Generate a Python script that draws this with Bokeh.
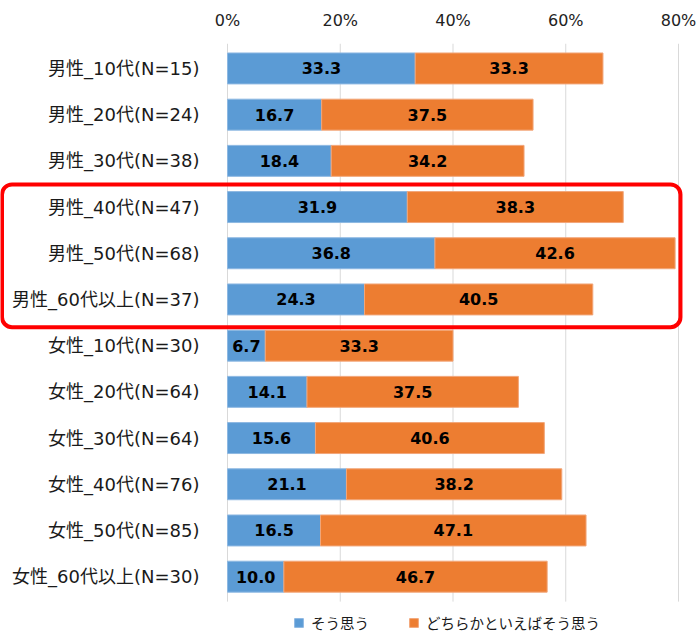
from bokeh.plotting import figure
from bokeh.models import (ColumnDataSource, Range1d, FixedTicker, CustomJSTickFormatter,
                          Legend, LegendItem, BoxAnnotation, LinearAxis)
from bokeh.core.properties import value
from bokeh.embed import file_html
from bokeh.resources import INLINE

categories = ["男性_10代(N=15)", "男性_20代(N=24)", "男性_30代(N=38)", "男性_40代(N=47)",
              "男性_50代(N=68)", "男性_60代以上(N=37)", "女性_10代(N=30)", "女性_20代(N=64)",
              "女性_30代(N=64)", "女性_40代(N=76)", "女性_50代(N=85)", "女性_60代以上(N=30)"]
sou_omou = [33.3, 16.7, 18.4, 31.9, 36.8, 24.3, 6.7, 14.1, 15.6, 21.1, 16.5, 10.0]
dochira = [33.3, 37.5, 34.2, 38.3, 42.6, 40.5, 33.3, 37.5, 40.6, 38.2, 47.1, 46.7]
series_names = ["そう思う", "どちらかといえばそう思う"]
tick_values = [0, 20, 40, 60, 80]
highlight_rows = [3, 5]

BLUE = "#5B9BD5"
ORANGE = "#ED7D31"
LABEL_FONT = "DejaVu Sans, Noto Sans CJK JP"

n = len(categories)
ypos = list(range(n))
src = ColumnDataSource(dict(
    y=ypos, cat=categories, a=sou_omou, b=dochira,
    a_end=sou_omou,
    b_end=[x + y for x, y in zip(sou_omou, dochira)],
    a_mid=[x / 2 for x in sou_omou],
    b_mid=[x + y / 2 for x, y in zip(sou_omou, dochira)],
    a_txt=[f"{v:.1f}" for v in sou_omou],
    b_txt=[f"{v:.1f}" for v in dochira],
))

Y_TOP = -0.54
p = figure(width=697, height=633, output_backend="svg", toolbar_location=None,
           x_range=Range1d(-40.27, 82.13), y_range=Range1d(12.23, Y_TOP),
           x_axis_location=None, y_axis_location=None,
           min_border_left=0, min_border_right=7, min_border_top=43, min_border_bottom=0)
p.outline_line_color = None
p.background_fill_color = "white"
p.xgrid.grid_line_color = None
p.ygrid.grid_line_color = None

ax = LinearAxis(ticker=FixedTicker(ticks=tick_values),
                formatter=CustomJSTickFormatter(code="return tick + '%';"))
ax.axis_line_color = None
ax.major_tick_line_color = None
ax.minor_tick_line_color = None
ax.major_label_text_font = "DejaVu Sans"
ax.major_label_text_font_size = "16px"
ax.major_label_text_color = "#222222"
ax.major_label_standoff = 8
p.add_layout(ax, "above")

# vertical gridlines at the tick values, spanning the category rows
p.segment(x0=tick_values, x1=tick_values, y0=[Y_TOP] * len(tick_values),
          y1=[n - 1 + 0.54] * len(tick_values), line_color="#D9D9D9", line_width=1)

r1 = p.hbar(y="y", left=0, right="a_end", height=0.67, source=src,
            fill_color=BLUE, line_color="#8DB8E2", line_width=1)
r2 = p.hbar(y="y", left="a_end", right="b_end", height=0.67, source=src,
            fill_color=ORANGE, line_color="#F2A679", line_width=1)

p.text(x="a_mid", y="y", text="a_txt", source=src, text_align="center", text_baseline="middle",
       text_font=value("DejaVu Sans"), text_font_style="bold", text_font_size="16px",
       text_color="black")
p.text(x="b_mid", y="y", text="b_txt", source=src, text_align="center", text_baseline="middle",
       text_font=value("DejaVu Sans"), text_font_style="bold", text_font_size="16px",
       text_color="black")

# category labels at left of the bars
p.text(x=-4.97, y="y", text="cat", source=src, text_align="right", text_baseline="middle",
       text_font=value(LABEL_FONT), text_font_size="18px", text_color="#1a1a1a")

# highlight box
box = BoxAnnotation(left=-40.0, right=80.35,
                    top=highlight_rows[0] - 0.49, bottom=highlight_rows[1] + 0.6,
                    fill_alpha=0, line_color="#FF0000", line_alpha=1.0, line_width=4,
                    border_radius=10, level="overlay")
p.add_layout(box)

legend = Legend(items=[LegendItem(label=series_names[0], renderers=[r1]),
                       LegendItem(label=series_names[1], renderers=[r2])],
                orientation="horizontal", location=(293, 0),
                glyph_width=11, glyph_height=11, label_standoff=7, spacing=39,
                padding=0, margin=0, label_height=16,
                label_text_font=LABEL_FONT, label_text_font_size="14.5px",
                label_text_color="#1a1a1a",
                border_line_color=None, background_fill_alpha=0)
p.add_layout(legend, "center")

open("out.html", "w").write(file_html(p, INLINE))
